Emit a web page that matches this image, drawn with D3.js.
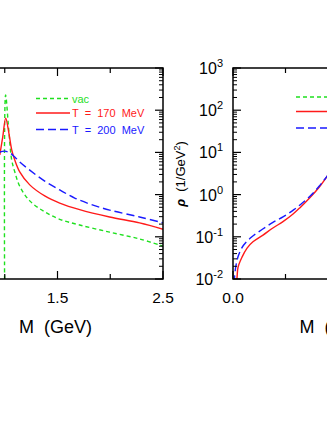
<!DOCTYPE html>
<html><head><meta charset="utf-8">
<script src="https://cdn.jsdelivr.net/npm/d3@7"></script>
<style>body{margin:0;background:#fff}svg{display:block}text{font-family:"Liberation Sans",Arial,sans-serif}</style>
</head><body>
<svg id="c" width="327" height="423"></svg>
<script>
// ---- data ----
const legendLabels = ["vac", "T  =  170  MeV", "T  =  200  MeV"];
const leftXTicks = [0.5, 1.5, 2.5];
const rightXTicks = [0.0, 0.5, 1.0];
const yTickExps = [-2, -1, 0, 1, 2, 3];

// left panel (M in GeV, rho)
const vacM   = [1.0, 1.008, 1.038, 1.066, 1.095, 1.142, 1.237, 1.379, 1.521, 1.71, 1.994, 2.278, 2.5];
const vacRho = [0.001, 229, 33.9, 6.6, 3.47, 1.58, 0.71, 0.39, 0.26, 0.19, 0.129, 0.089, 0.060];
const t170M   = [0.953, 0.981, 1.009, 1.038, 1.066, 1.095, 1.142, 1.237, 1.379, 1.521, 1.71, 1.994, 2.278, 2.5];
const t170Rho = [8.7, 23.2, 65, 30, 11.5, 6.6, 3.47, 1.70, 0.93, 0.63, 0.44, 0.295, 0.214, 0.151];
const t200M   = [0.953, 1.0, 1.047, 1.095, 1.142, 1.237, 1.379, 1.521, 1.663, 1.805, 1.994, 2.278, 2.5];
const t200Rho = [10.2, 10.7, 9.8, 7.8, 5.9, 3.8, 2.09, 1.29, 0.83, 0.60, 0.43, 0.295, 0.214];

// right panel
const r170M   = [0.012, 0.019, 0.024, 0.043, 0.067, 0.095, 0.143, 0.19, 0.238, 0.286, 0.319, 0.367, 0.414, 0.448, 0.5];
const r170Rho = [0.005, 0.0105, 0.019, 0.033, 0.054, 0.076, 0.11, 0.162, 0.229, 0.347, 0.49, 0.85, 1.58, 2.69, 6.6];
const r200M   = [0.005, 0.012, 0.025, 0.05, 0.09, 0.14, 0.19, 0.24, 0.29, 0.33, 0.37, 0.41, 0.45, 0.5];
const r200Rho = [0.0079, 0.0178, 0.035, 0.063, 0.10, 0.151, 0.219, 0.30, 0.44, 0.63, 0.95, 1.58, 2.82, 6.3];

// ---- styles ----
const GREEN = "#1fe01f", RED = "#ff1a1a", BLUE = "#1a1aff";
const styles = [
  {color: GREEN, dash: "4,3"},
  {color: RED, dash: null},
  {color: BLUE, dash: "8,4"}
];

const W = 327;
const svg = d3.select("#c");
const yTop = 68, yBot = 279;
const y = d3.scaleLog().domain([1e-2, 1e3]).range([yBot, yTop]);
const xL = d3.scaleLinear().domain([0.5, 2.5]).range([-48, 163]);
const xR = d3.scaleLinear().domain([0.0, 1.0]).range([233, 443]);
const visible = px => px > -5 && px < W + 8;

function panel(id, x, series, xTicks, legendPos, showLegendText) {
  const [x0, x1] = x.range();
  const g = svg.append("g");
  g.append("clipPath").attr("id", id).append("rect")
    .attr("x", x0).attr("y", yTop).attr("width", x1 - x0).attr("height", yBot - yTop);
  const line = d3.line().x(d => x(d[0])).y(d => y(d[1])).curve(d3.curveCatmullRom.alpha(0.5));
  series.forEach((s, i) => {
    if (!s.M.length) return;
    const pts = s.M.map((m, j) => [m, s.rho[j]]);
    g.append("path").attr("d", line(pts)).attr("clip-path", `url(#${id})`)
      .attr("fill", "none").attr("stroke", styles[i].color).attr("stroke-width", 1.4)
      .attr("stroke-dasharray", styles[i].dash);
  });
  g.append("rect").attr("x", x0).attr("y", yTop).attr("width", x1 - x0).attr("height", yBot - yTop)
    .attr("fill", "none").attr("stroke", "#000").attr("stroke-width", 1.5);
  const step = xTicks[1] - xTicks[0];
  const minor = xTicks.slice(0, -1).map(t => t + step / 2);
  xTicks.forEach(t => {
    [[yBot, yBot - 8], [yTop, yTop + 8]].forEach(([a, b]) =>
      g.append("line").attr("x1", x(t)).attr("x2", x(t)).attr("y1", a).attr("y2", b).attr("stroke", "#000").attr("stroke-width", 1.2));
    if (visible(x(t) - 8) || visible(x(t) + 8))
      g.append("text").attr("x", x(t)).attr("y", 303).attr("text-anchor", "middle")
        .attr("font-size", 15.5).text(d3.format(".1f")(t));
  });
  minor.forEach(t => {
    [[yBot, yBot - 5], [yTop, yTop + 5]].forEach(([a, b]) =>
      g.append("line").attr("x1", x(t)).attr("x2", x(t)).attr("y1", a).attr("y2", b).attr("stroke", "#000").attr("stroke-width", 1.2));
  });
  [x0, x1].forEach(edge => {
    const dir = edge === x0 ? 1 : -1;
    yTickExps.forEach(e => {
      const v = Math.pow(10, e);
      g.append("line").attr("x1", edge).attr("x2", edge + dir * 8).attr("y1", y(v)).attr("y2", y(v)).attr("stroke", "#000").attr("stroke-width", 1.2);
      if (e < 3) for (let k = 2; k <= 9; k++) {
        g.append("line").attr("x1", edge).attr("x2", edge + dir * 4).attr("y1", y(k * v)).attr("y2", y(k * v)).attr("stroke", "#000").attr("stroke-width", 1);
      }
    });
  });
  if (x0 - 30 > 0) {
    yTickExps.forEach(e => {
      const t = g.append("text").attr("x", x0 - 10).attr("y", y(Math.pow(10, e)) + 6)
        .attr("text-anchor", "end").attr("font-size", 16);
      t.append("tspan").text("10");
      t.append("tspan").attr("dy", -7).attr("font-size", 11).text(e);
    });
  }
  g.append("text").attr("x", (x0 + x1) / 2 - 2).attr("y", 333).attr("text-anchor", "middle")
    .attr("font-size", 18).style("white-space", "pre").text("M  (GeV)");
  const [lx, ly] = legendPos;
  const lys = [ly, ly + 14.5, ly + 31];
  styles.forEach((s, i) => {
    g.append("line").attr("x1", lx).attr("x2", lx + 34).attr("y1", lys[i]).attr("y2", lys[i])
      .attr("stroke", s.color).attr("stroke-width", 1.4).attr("stroke-dasharray", s.dash);
    if (showLegendText)
      g.append("text").attr("x", lx + 36).attr("y", lys[i] + 4).attr("font-size", 11)
        .attr("fill", s.color).style("white-space", "pre").text(legendLabels[i]);
  });
  return g;
}

panel("clipL", xL, [
  {M: vacM, rho: vacRho}, {M: t170M, rho: t170Rho}, {M: t200M, rho: t200Rho}
], leftXTicks, [36, 98.5], true);

panel("clipR", xR, [
  {M: [], rho: []}, {M: r170M, rho: r170Rho}, {M: r200M, rho: r200Rho}
], rightXTicks, [296, 97], false);

const yt = svg.append("text").attr("transform", "translate(185,174) rotate(-90)")
  .attr("text-anchor", "middle").attr("font-size", 13);
yt.append("tspan").attr("font-weight", "bold").attr("font-style", "italic").text("ρ");
yt.append("tspan").style("white-space", "pre").text("  (1/GeV");
yt.append("tspan").attr("dy", -5).attr("font-size", 9).text("2");
yt.append("tspan").attr("dy", 5).text(")");
</script>
</body></html>
